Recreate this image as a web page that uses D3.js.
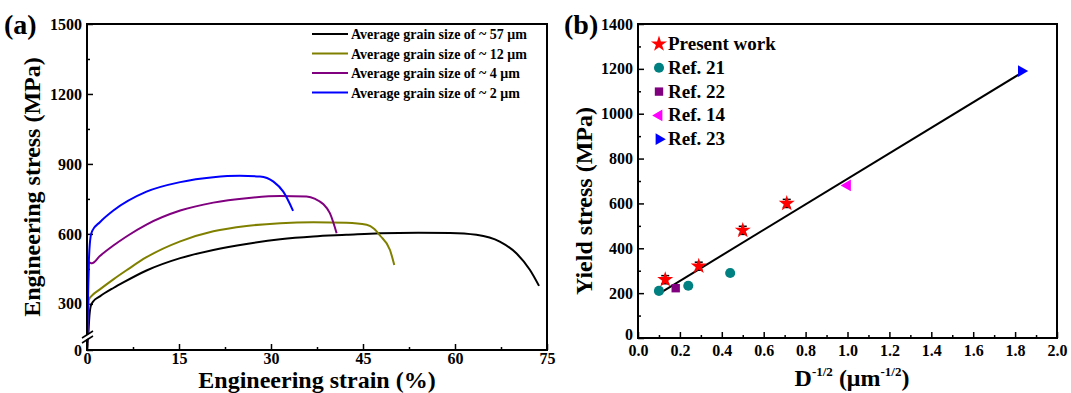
<!DOCTYPE html>
<html>
<head>
<meta charset="utf-8">
<script src="https://cdn.jsdelivr.net/npm/d3@7"></script>
<style>
  body { margin: 0; background: #fff; }
  text { font-family: "Liberation Serif", "Times New Roman", serif; font-weight: bold; }
</style>
</head>
<body>
<script>
// panel (a): stress-strain curves
const strain57 = [0, 0.2, 0.4, 0.6, 1, 2.1, 4.3, 6, 9.7, 15.2, 20.6, 26, 31.5, 36.9, 42.3, 47.8, 54, 59.2, 63.5, 67.3, 70, 72.2, 73.7];
const stress57 = [0, 150, 250, 290, 310, 332, 368, 393, 443, 496, 531, 557, 577, 589, 596, 603, 605, 604, 596, 567, 517, 446, 377];
const strain12 = [0, 0.1, 0.3, 0.8, 2.1, 4.3, 6.5, 9.7, 15.2, 20.6, 26, 31.5, 36.9, 42.3, 45.6, 46.8, 47.8, 49.4, 50.1];
const stress12 = [0, 200, 318, 335, 362, 405, 445, 500, 568, 611, 634, 646, 650, 648, 639, 622, 592, 531, 467];
const strain4 = [0, 0.1, 0.3, 0.8, 2.1, 4.3, 6.5, 9.7, 15.2, 20.6, 26, 31.5, 35.8, 37.2, 38.5, 39.6, 40.7];
const stress4 = [0, 300, 478, 474, 505, 550, 590, 640, 700, 734, 753, 762, 760, 750, 728, 689, 603];
const strain2 = [0, 0.15, 0.3, 0.6, 0.9, 2.1, 4.3, 9.7, 15.2, 20.6, 24.9, 28.2, 30.4, 32, 33.6];
const stress2 = [0, 300, 480, 590, 615, 650, 700, 781, 822, 843, 849, 846, 824, 781, 699];
const curveNames = ["Average grain size of ~ 57 \u03bcm", "Average grain size of ~ 12 \u03bcm",
  "Average grain size of ~ 4 \u03bcm", "Average grain size of ~ 2 \u03bcm"];
const curveColors = ["#000000", "#808000", "#800080", "#0000ff"];
const strainTicks = [0, 15, 30, 45, 60, 75];
const stressTicks = [0, 300, 600, 900, 1200, 1500];

// panel (b): Hall-Petch plot
const presentX = [0.13, 0.29, 0.50, 0.71];
const presentY = [260, 320, 480, 600];
const presentErr = [18, 18, 18, 18];
const ref21X = [0.10, 0.24, 0.44];
const ref21Y = [210, 233, 290];
const ref22X = [0.18];
const ref22Y = [222];
const ref14X = [1.0];
const ref14Y = [680];
const ref23X = [1.83];
const ref23Y = [1190];
const fitX = [0.097, 1.827];
const fitY = [196, 1180];
const refNames = ["Present work", "Ref. 21", "Ref. 22", "Ref. 14", "Ref. 23"];
const refColors = ["#ff0000", "#008080", "#800080", "#ff00ff", "#0000ff"];
const dTicks = [0, 0.2, 0.4, 0.6, 0.8, 1.0, 1.2, 1.4, 1.6, 1.8, 2.0];
const yieldTicks = [0, 200, 400, 600, 800, 1000, 1200, 1400];

const svg = d3.select("body").append("svg")
  .attr("width", 1071).attr("height", 393);

function styleAxis(g) {
  g.selectAll(".domain").remove();
  g.selectAll("line").attr("stroke", "#000").attr("stroke-width", 1.5);
  g.selectAll("text").attr("font-size", 16).attr("font-family", "Liberation Serif").attr("font-weight", "bold").attr("fill", "#000");
}

// ---------- panel (a) ----------
const xa = d3.scaleLinear().domain([0, 75]).range([87, 547]);
const ya = d3.scaleLinear().domain([0, 175, 1500]).range([350, 333, 24]);

svg.append("g").attr("transform", "translate(0,350)")
  .call(d3.axisBottom(xa).tickValues(d3.range(7.5, 75, 15)).tickSize(-3).tickFormat(""))
  .call(styleAxis);
svg.append("g").attr("transform", "translate(0,350)")
  .call(d3.axisBottom(xa).tickValues(strainTicks).tickSize(-6).tickPadding(3).tickFormat(d3.format("d")))
  .call(styleAxis);
svg.append("g").attr("transform", "translate(87,0)")
  .call(d3.axisLeft(ya).tickValues([450, 750, 1050, 1350]).tickSize(-3).tickFormat(""))
  .call(styleAxis);
svg.append("g").attr("transform", "translate(87,0)")
  .call(d3.axisLeft(ya).tickValues(stressTicks).tickSize(-6).tickPadding(5).tickFormat(d3.format("d")))
  .call(styleAxis);

const lineA = d3.line().x(d => xa(d[0])).y(d => ya(d[1])).curve(d3.curveMonotoneX);
const curves = [[strain57, stress57], [strain12, stress12], [strain4, stress4], [strain2, stress2]];
curves.forEach(([xs, ys], i) => {
  svg.append("path")
    .attr("d", lineA(xs.map((x, j) => [x, ys[j]])))
    .attr("fill", "none").attr("stroke", curveColors[i]).attr("stroke-width", 2);
});

svg.append("rect").attr("x", 87).attr("y", 24).attr("width", 460).attr("height", 326)
  .attr("fill", "none").attr("stroke", "#000").attr("stroke-width", 2);

// axis break
svg.append("polygon").attr("points", "82,338 92,332 92,336 82,342").attr("fill", "#fff");
[[82, 338, 93, 331], [82, 343, 93, 336]].forEach(p => {
  svg.append("line").attr("x1", p[0]).attr("y1", p[1]).attr("x2", p[2]).attr("y2", p[3])
    .attr("stroke", "#000").attr("stroke-width", 1.5);
});

// legend (a)
curveNames.forEach((name, i) => {
  const y = 34 + i * 19.5;
  svg.append("line").attr("x1", 312).attr("x2", 348).attr("y1", y).attr("y2", y)
    .attr("stroke", curveColors[i]).attr("stroke-width", 2);
  svg.append("text").attr("x", 351).attr("y", y + 5).attr("font-size", 14).text(name);
});

svg.append("text").attr("transform", "translate(40,187) rotate(-90)")
  .attr("text-anchor", "middle").attr("font-size", 24).text("Engineering stress (MPa)");
svg.append("text").attr("x", 317).attr("y", 388)
  .attr("text-anchor", "middle").attr("font-size", 24).text("Engineering strain (%)");
svg.append("text").attr("x", 4).attr("y", 34).attr("font-size", 28).text("(a)");

// ---------- panel (b) ----------
const xb = d3.scaleLinear().domain([0, 2]).range([638, 1057]);
const yb = d3.scaleLinear().domain([0, 1400]).range([338, 24]);

svg.append("g").attr("transform", "translate(0,338)")
  .call(d3.axisBottom(xb).tickValues(d3.range(0.1, 2, 0.2)).tickSize(-3).tickFormat(""))
  .call(styleAxis);
svg.append("g").attr("transform", "translate(0,338)")
  .call(d3.axisBottom(xb).tickValues(dTicks).tickSize(-6).tickPadding(7).tickFormat(d3.format(".1f")))
  .call(styleAxis);
svg.append("g").attr("transform", "translate(638,0)")
  .call(d3.axisLeft(yb).tickValues(d3.range(100, 1400, 200)).tickSize(-3).tickFormat(""))
  .call(styleAxis);
svg.append("g").attr("transform", "translate(638,0)")
  .call(d3.axisLeft(yb).tickValues(yieldTicks).tickSize(-6).tickPadding(5).tickFormat(d3.format("d")))
  .call(styleAxis)
  .call(g => g.selectAll("text").filter(d => d === 0).attr("dy", "0.1em"));

svg.append("rect").attr("x", 638).attr("y", 24).attr("width", 419).attr("height", 314)
  .attr("fill", "none").attr("stroke", "#000").attr("stroke-width", 2);

// fit line
svg.append("path")
  .attr("d", d3.line().x(d => xb(d[0])).y(d => yb(d[1]))(fitX.map((x, i) => [x, fitY[i]])))
  .attr("stroke", "#000").attr("stroke-width", 2).attr("fill", "none");

const star = d3.symbol().type(d3.symbolStar).size(80);
const circle = d3.symbol().type(d3.symbolCircle).size(80);
const square = d3.symbol().type(d3.symbolSquare).size(70);
const tri = d3.symbol().type(d3.symbolTriangle).size(60);
const symbols = [
  (g, col) => g.append("path").attr("d", star()).attr("fill", col),
  (g, col) => g.append("path").attr("d", circle()).attr("fill", col),
  (g, col) => g.append("path").attr("d", square()).attr("fill", col),
  (g, col) => g.append("path").attr("d", tri()).attr("transform", "rotate(-90)").attr("fill", col),
  (g, col) => g.append("path").attr("d", tri()).attr("transform", "rotate(90)").attr("fill", col)
];

// error bars for present work
presentX.forEach((x, i) => {
  const cx = xb(x), y1 = yb(presentY[i] - presentErr[i]), y2 = yb(presentY[i] + presentErr[i]);
  const eb = svg.append("g").attr("stroke", "#000").attr("stroke-width", 1.5);
  eb.append("line").attr("x1", cx).attr("x2", cx).attr("y1", y1).attr("y2", y2);
  eb.append("line").attr("x1", cx - 4).attr("x2", cx + 4).attr("y1", y1).attr("y2", y1);
  eb.append("line").attr("x1", cx - 4).attr("x2", cx + 4).attr("y1", y2).attr("y2", y2);
});

const groups = [[presentX, presentY], [ref21X, ref21Y], [ref22X, ref22Y], [ref14X, ref14Y], [ref23X, ref23Y]];
groups.forEach(([xs, ys], k) => {
  xs.forEach((x, i) => {
    const g = svg.append("g").attr("transform", `translate(${xb(x)},${yb(ys[i])})`);
    symbols[k](g, refColors[k]);
  });
});

// legend (b)
refNames.forEach((name, k) => {
  const y = 44 + k * 23.8;
  const g = svg.append("g").attr("transform", `translate(659,${y})`);
  symbols[k](g, refColors[k]);
  svg.append("text").attr("x", 668).attr("y", y + 6).attr("font-size", 19).text(name);
});

svg.append("text").attr("transform", "translate(592,201) rotate(-90)")
  .attr("text-anchor", "middle").attr("font-size", 24).text("Yield stress (MPa)");
const xt = svg.append("text").attr("x", 852).attr("y", 386).attr("text-anchor", "middle").attr("font-size", 24);
xt.append("tspan").text("D");
xt.append("tspan").attr("font-size", 13).attr("dy", -10).text("-1/2");
xt.append("tspan").attr("dy", 10).text(" (\u03bcm");
xt.append("tspan").attr("font-size", 13).attr("dy", -10).text("-1/2");
xt.append("tspan").attr("dy", 10).text(")");
svg.append("text").attr("x", 564).attr("y", 34).attr("font-size", 28).text("(b)");
</script>
</body>
</html>
